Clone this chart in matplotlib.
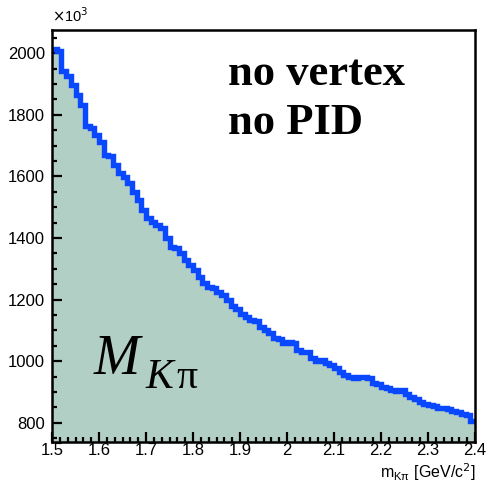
import numpy as np
import matplotlib
matplotlib.use("Agg")
import matplotlib.pyplot as plt
from matplotlib.ticker import FixedLocator, MultipleLocator

# K-pi invariant mass histogram, 90 bins of 10 MeV between 1.5 and 2.4 GeV
x_min, x_max, n_bins = 1.5, 2.4, 90
counts_k = [
    2013, 2008, 1943, 1927, 1896, 1864, 1831, 1763, 1757, 1734,
    1712, 1669, 1666, 1637, 1611, 1598, 1578, 1550, 1523, 1491,
    1465, 1453, 1442, 1432, 1400, 1372, 1367, 1351, 1329, 1312,
    1296, 1273, 1254, 1241, 1238, 1225, 1215, 1199, 1180, 1170,
    1154, 1144, 1134, 1131, 1111, 1102, 1092, 1076, 1071, 1059,
    1062, 1060, 1037, 1031, 1030, 1011, 1001, 1004, 995, 988,
    978, 965, 955, 949, 946, 948, 948, 946, 930, 927,
    917, 913, 907, 904, 907, 894, 884, 878, 868, 862,
    858, 855, 849, 849, 845, 839, 836, 829, 826, 806,
]
x_ticks = [1.5, 1.6, 1.7, 1.8, 1.9, 2.0, 2.1, 2.2, 2.3, 2.4]
x_tick_labels = ["1.5", "1.6", "1.7", "1.8", "1.9", "2", "2.1", "2.2", "2.3", "2.4"]
y_ticks = [800, 1000, 1200, 1400, 1600, 1800, 2000]

edges = np.linspace(x_min, x_max, n_bins + 1)
values = np.array(counts_k, dtype=float)

W, H = 486, 482
fig = plt.figure(figsize=(W / 100, H / 100), dpi=100)
ax = fig.add_axes([52 / W, 1 - 442 / H, (475 - 52) / W, (442 - 30) / H])

fill_col = "#b2cfc6"
line_col = "#0a48ff"

ax.stairs(values, edges, baseline=0, fill=True, color=fill_col, lw=0, zorder=1)
ax.stairs(values, edges, baseline=None, color=line_col, lw=3.9, zorder=2)

ax.set_xlim(x_min, x_max)
ax.set_ylim(738, 2075)

sans = "Liberation Sans"
ax.xaxis.set_major_locator(FixedLocator(x_ticks))
ax.set_xticklabels(x_tick_labels, fontfamily=sans, fontsize=12)
minor_step = 0.1 / 6
minor_x = [x_min + k * minor_step for k in range(int(round((x_max - x_min) / minor_step)) + 1)]
ax.xaxis.set_minor_locator(FixedLocator(minor_x))
ax.yaxis.set_major_locator(FixedLocator(y_ticks))
ax.set_yticklabels([str(v) for v in y_ticks], fontfamily=sans, fontsize=12)
ax.yaxis.set_minor_locator(MultipleLocator(50))

ax.tick_params(which="both", direction="in", top=False, right=False, width=1.6, colors="black")
ax.tick_params(which="major", length=7)
ax.tick_params(which="minor", length=3.5)
ax.tick_params(axis="x", which="major", pad=1)
ax.tick_params(axis="y", which="major", pad=5)
for sp in ax.spines.values():
    sp.set_linewidth(1.8)
    sp.set_zorder(5)

def fx(px):
    return px / W

def fy(py):
    return 1 - py / H

# exponent marker for the y axis
fig.text(fx(52), fy(22), r"$\times$10$^{3}$", fontfamily=sans, fontsize=10.5,
         ha="left", va="baseline")

# x-axis title
fig.text(fx(476), fy(478), r"m$_{\mathregular{K\pi}}$ [GeV/c$^{2}$]", fontfamily=sans,
         fontsize=11.5, ha="right", va="baseline")

serif = "Liberation Serif"
fig.text(fx(228), fy(85), "no vertex", fontfamily=serif, fontweight="bold",
         fontsize=32, ha="left", va="baseline")
fig.text(fx(228), fy(134), "no PID", fontfamily=serif, fontweight="bold",
         fontsize=32, ha="left", va="baseline")

fig.text(fx(94), fy(374), "M", fontfamily=serif, fontstyle="italic",
         fontsize=40, ha="left", va="baseline")
fig.text(fx(145), fy(388), "K", fontfamily=serif, fontstyle="italic",
         fontsize=30, ha="left", va="baseline")
fig.text(fx(176), fy(388), "\u03c0", fontfamily=serif,
         fontsize=30, ha="left", va="baseline")

fig.savefig("out.png", dpi=100)
